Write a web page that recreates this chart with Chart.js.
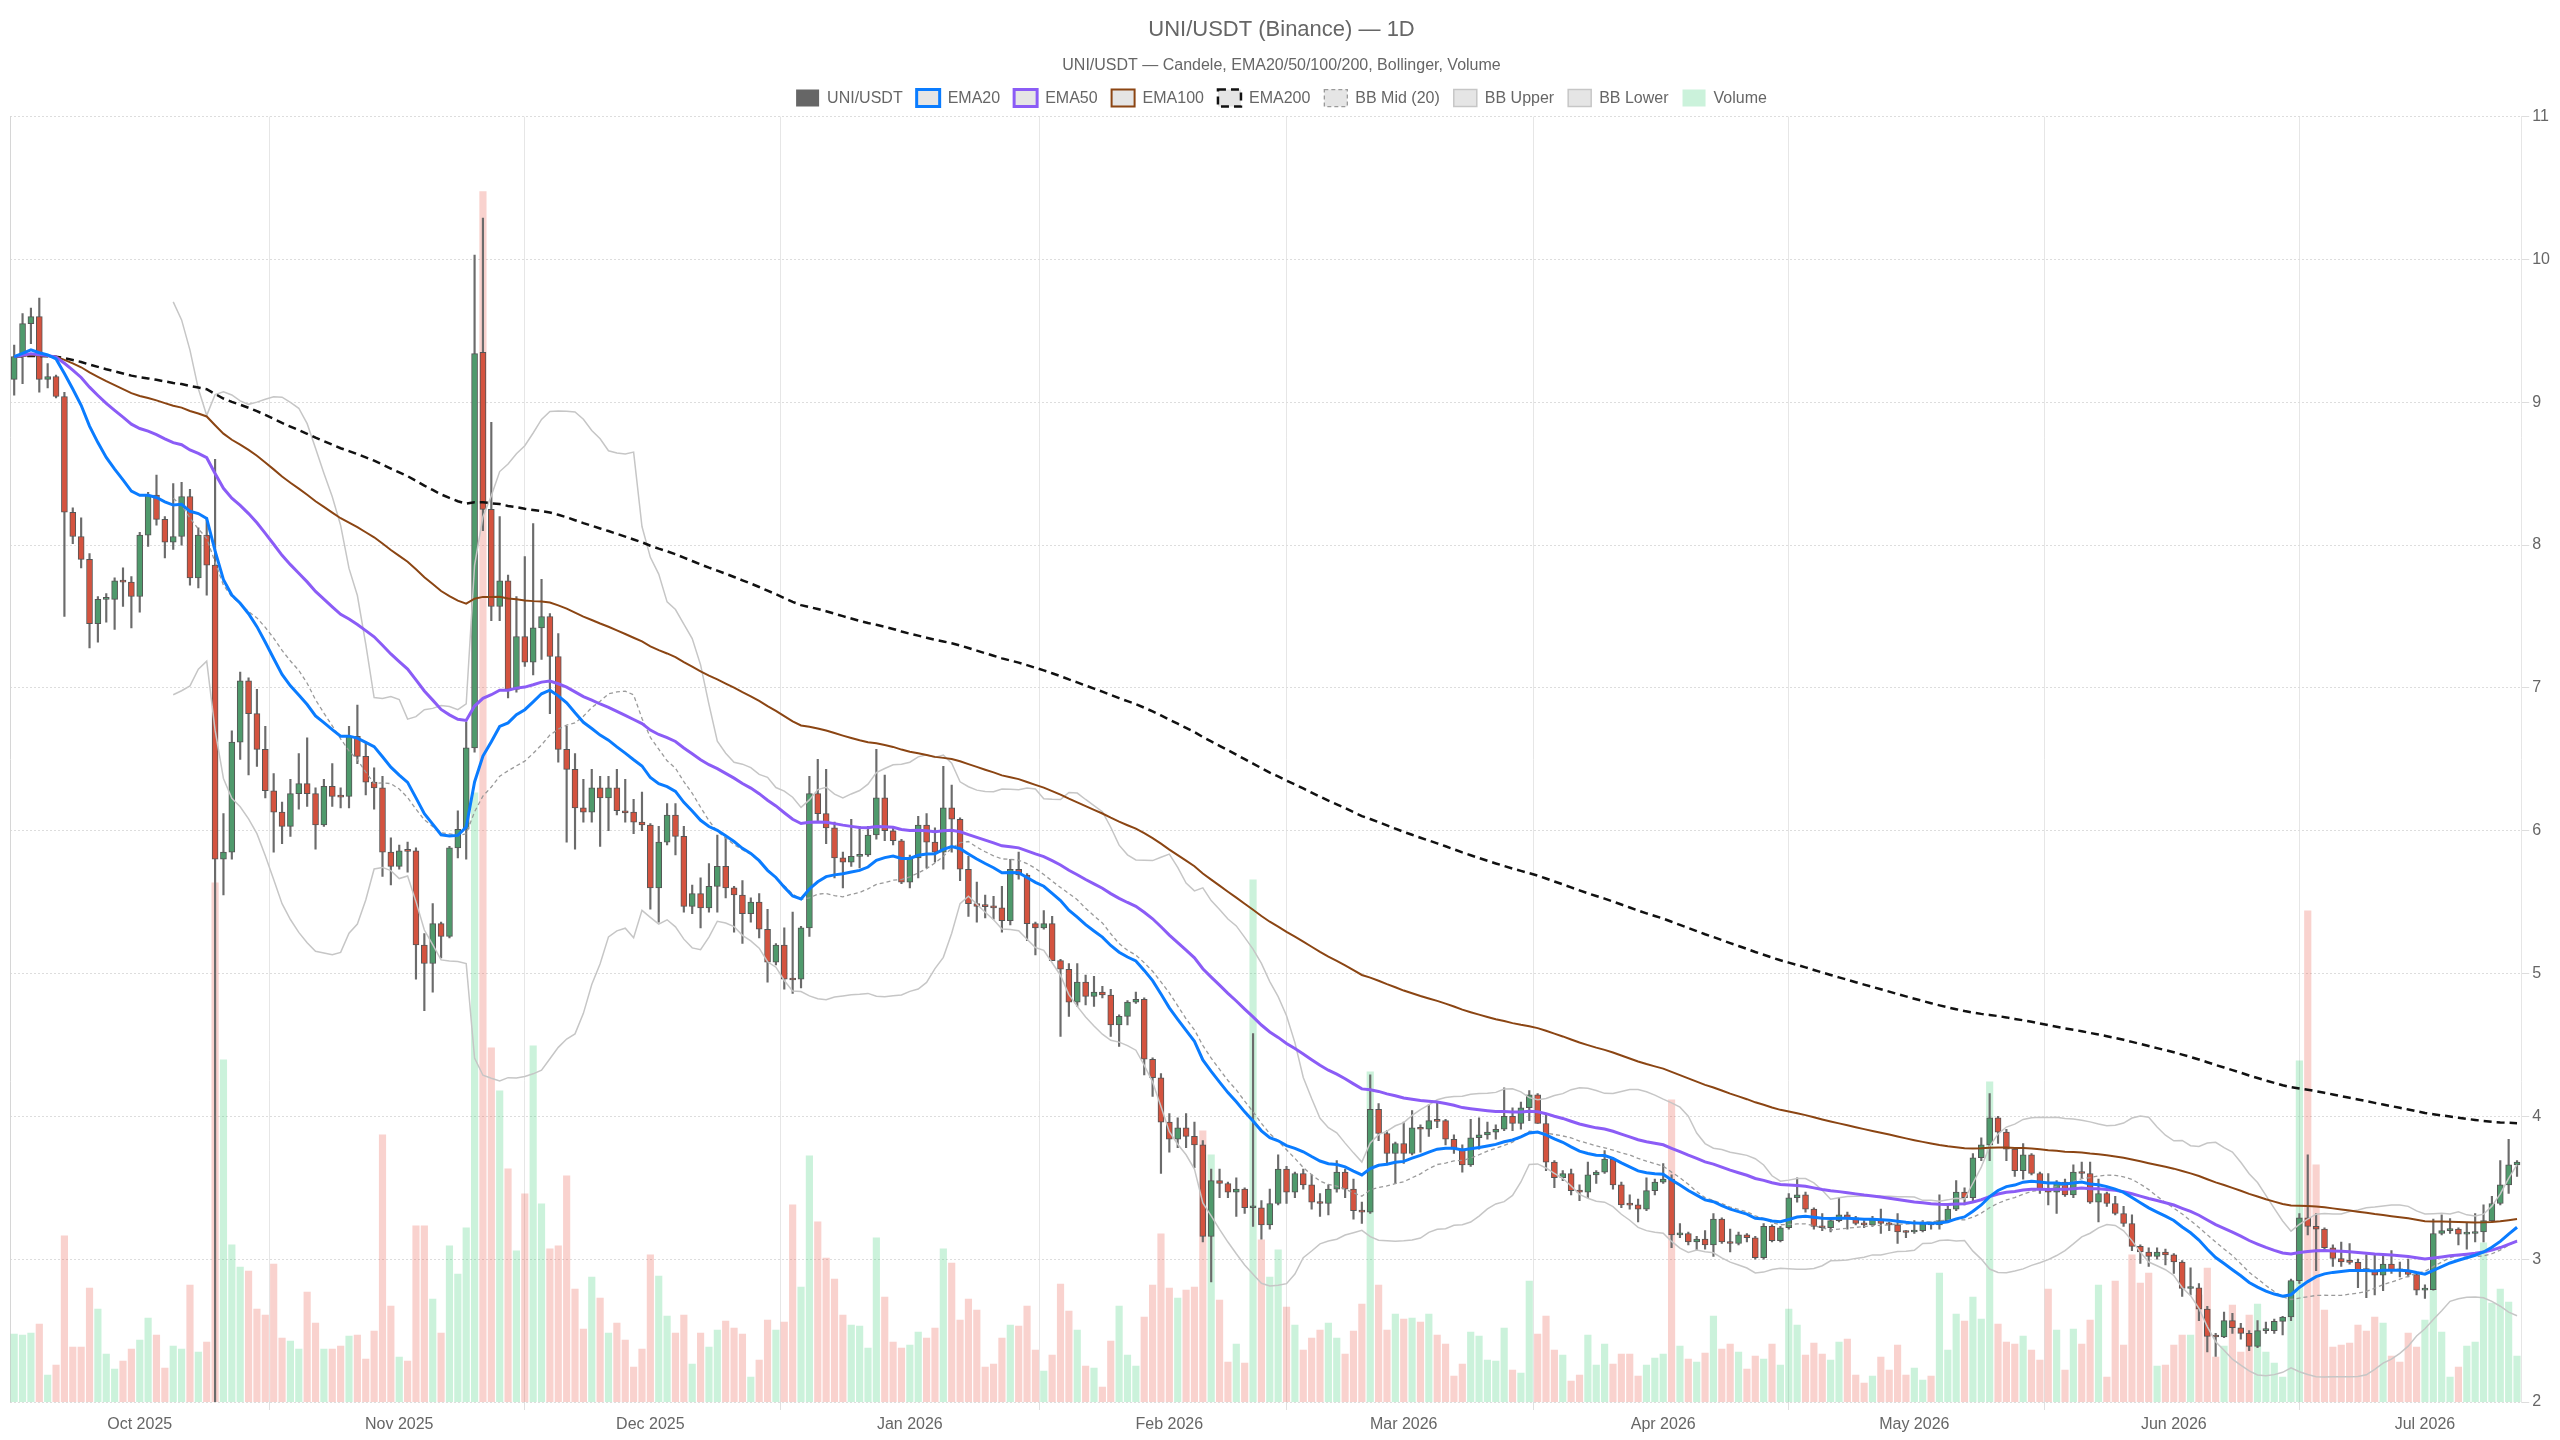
<!DOCTYPE html>
<html>
<head>
<meta charset="utf-8">
<title>UNI/USDT (Binance) — 1D</title>
<script src="https://cdn.jsdelivr.net/npm/chart.js@4.4.1/dist/chart.umd.min.js"></script>
<style>
  html, body { margin: 0; padding: 0; background: #ffffff; }
  #wrap { position: relative; width: 2560px; height: 1440px; }
</style>
</head>
<body>
<div id="wrap"><canvas id="chart"></canvas></div>
<script>
'use strict';

// daily candles, first one is 16 Sep 2025
var START_DATE = [2025, 8, 16];
var MONTH_NAMES = ['Jan', 'Feb', 'Mar', 'Apr', 'May', 'Jun', 'Jul', 'Aug', 'Sep', 'Oct', 'Nov', 'Dec'];

var opens = [
  9.16, 9.32, 9.55, 9.60, 9.16, 9.18, 9.04, 8.23, 8.06, 7.90,
  7.45, 7.62, 7.62, 7.75, 7.74, 7.64, 8.07, 8.35, 8.18, 8.02,
  8.06, 8.34, 7.77, 8.07, 7.86, 5.80, 5.85, 6.62, 7.05, 6.82,
  6.57, 6.28, 6.13, 6.03, 6.26, 6.33, 6.26, 6.04, 6.31, 6.24,
  6.24, 6.66, 6.52, 6.34, 6.30, 5.85, 5.75, 5.86, 5.86, 5.20,
  5.07, 5.35, 5.26, 5.88, 6.01, 6.58, 9.35, 8.25, 7.57, 7.75,
  6.99, 7.36, 7.18, 7.42, 7.50, 7.22, 6.57, 6.43, 6.16, 6.13,
  6.30, 6.23, 6.30, 6.14, 6.13, 6.06, 6.04, 5.60, 5.92, 6.11,
  5.96, 5.47, 5.56, 5.46, 5.61, 5.75, 5.60, 5.55, 5.42, 5.50,
  5.31, 5.08, 5.20, 4.96, 4.96, 5.32, 6.26, 6.12, 6.02, 5.81,
  5.78, 5.82, 5.83, 5.97, 6.23, 6.00, 5.93, 5.64, 5.81, 6.04,
  5.92, 5.85, 6.16, 6.08, 5.73, 5.49, 5.47, 5.47, 5.46, 5.37,
  5.73, 5.69, 5.35, 5.32, 5.35, 5.09, 5.03, 4.80, 4.94, 4.84,
  4.87, 4.85, 4.64, 4.70, 4.80, 4.82, 4.40, 4.27, 3.96, 3.84,
  3.92, 3.86, 3.80, 3.16, 3.55, 3.53, 3.47, 3.49, 3.36, 3.36,
  3.24, 3.39, 3.63, 3.47, 3.60, 3.52, 3.40, 3.39, 3.49, 3.61,
  3.49, 3.34, 3.33, 4.05, 3.88, 3.74, 3.81, 3.74, 3.92, 3.91,
  3.97, 3.97, 3.84, 3.77, 3.66, 3.85, 3.87, 3.89, 3.91, 4.00,
  3.95, 4.06, 4.15, 3.95, 3.68, 3.57, 3.60, 3.48, 3.47, 3.59,
  3.61, 3.70, 3.52, 3.38, 3.38, 3.35, 3.48, 3.54, 3.56, 3.17,
  3.18, 3.12, 3.14, 3.10, 3.28, 3.12, 3.11, 3.17, 3.15, 3.01,
  3.23, 3.13, 3.22, 3.43, 3.45, 3.35, 3.23, 3.22, 3.27, 3.31,
  3.29, 3.25, 3.24, 3.28, 3.25, 3.24, 3.19, 3.19, 3.20, 3.25,
  3.24, 3.27, 3.35, 3.47, 3.43, 3.71, 3.80, 3.99, 3.89, 3.77,
  3.62, 3.73, 3.60, 3.49, 3.47, 3.54, 3.45, 3.61, 3.60, 3.40,
  3.46, 3.39, 3.32, 3.25, 3.09, 3.05, 3.02, 3.05, 3.03, 2.98,
  2.795, 2.80, 2.65, 2.46, 2.455, 2.57, 2.52, 2.48, 2.39, 2.50,
  2.50, 2.565, 2.595, 2.85, 3.29, 3.23, 3.21, 3.08, 3.005, 2.98,
  2.978, 2.923, 2.92, 2.888, 2.966, 2.923, 2.918, 2.893, 2.783, 2.787,
  3.18, 3.20, 3.21, 3.175, 3.18, 3.19, 3.27, 3.39, 3.52, 3.66
];

var highs = [
  9.40, 9.62, 9.66, 9.73, 9.27, 9.19, 9.07, 8.26, 8.19, 7.94,
  7.64, 7.66, 7.77, 7.84, 7.78, 8.09, 8.37, 8.49, 8.20, 8.43,
  8.44, 8.39, 8.12, 8.19, 8.60, 6.12, 6.70, 7.11, 7.07, 6.99,
  6.73, 6.40, 6.20, 6.36, 6.54, 6.65, 6.30, 6.36, 6.47, 6.30,
  6.73, 6.88, 6.62, 6.44, 6.38, 5.95, 5.90, 5.92, 5.88, 5.28,
  5.49, 5.36, 5.89, 6.14, 6.76, 10.03, 10.29, 8.86, 8.20, 7.79,
  7.64, 7.92, 8.15, 7.76, 7.52, 7.38, 6.73, 6.54, 6.36, 6.43,
  6.38, 6.38, 6.43, 6.36, 6.22, 6.27, 6.05, 6.03, 6.19, 6.19,
  6.03, 5.62, 5.67, 5.77, 5.97, 5.95, 5.61, 5.65, 5.53, 5.56,
  5.45, 5.21, 5.32, 5.43, 5.33, 6.38, 6.50, 6.43, 6.06, 5.85,
  6.08, 6.03, 6.03, 6.57, 6.39, 6.02, 5.94, 5.83, 6.10, 6.12,
  6.02, 6.45, 6.32, 6.09, 5.82, 5.64, 5.55, 5.54, 5.61, 5.80,
  5.85, 5.70, 5.36, 5.44, 5.40, 5.10, 5.07, 5.07, 4.99, 4.98,
  4.91, 4.89, 4.71, 4.81, 4.87, 4.83, 4.41, 4.30, 4.02, 3.99,
  4.02, 3.96, 3.83, 3.63, 3.63, 3.54, 3.57, 3.50, 4.58, 3.41,
  3.49, 3.73, 3.65, 3.61, 3.63, 3.59, 3.46, 3.52, 3.69, 3.63,
  3.56, 3.40, 4.29, 4.09, 3.90, 3.82, 3.96, 4.04, 3.94, 4.08,
  4.10, 3.98, 3.87, 3.80, 3.98, 3.99, 3.96, 3.94, 4.20, 4.06,
  4.10, 4.18, 4.16, 4.02, 3.69, 3.62, 3.63, 3.52, 3.68, 3.62,
  3.76, 3.71, 3.54, 3.45, 3.42, 3.57, 3.56, 3.67, 3.59, 3.25,
  3.19, 3.16, 3.20, 3.32, 3.29, 3.21, 3.19, 3.18, 3.16, 3.25,
  3.24, 3.23, 3.46, 3.57, 3.47, 3.36, 3.32, 3.28, 3.43, 3.33,
  3.30, 3.27, 3.30, 3.35, 3.26, 3.32, 3.20, 3.27, 3.27, 3.26,
  3.45, 3.39, 3.55, 3.50, 3.74, 3.85, 4.16, 4.00, 3.91, 3.78,
  3.81, 3.74, 3.61, 3.60, 3.55, 3.56, 3.66, 3.68, 3.68, 3.56,
  3.47, 3.44, 3.37, 3.31, 3.10, 3.08, 3.08, 3.07, 3.04, 2.99,
  2.94, 2.83, 2.67, 2.48, 2.63, 2.62, 2.55, 2.50, 2.57, 2.56,
  2.58, 2.60, 2.86, 3.32, 3.73, 3.32, 3.22, 3.10, 3.12, 3.11,
  3.00, 3.03, 3.03, 3.035, 3.06, 2.98, 3.00, 2.90, 2.82, 3.28,
  3.31, 3.285, 3.22, 3.255, 3.32, 3.38, 3.44, 3.69, 3.84, 3.69
];

var lows = [
  9.05, 9.13, 9.41, 9.07, 9.10, 9.03, 7.50, 8.01, 7.84, 7.28,
  7.32, 7.46, 7.41, 7.57, 7.42, 7.53, 7.99, 8.14, 7.91, 7.97,
  8.00, 7.72, 7.70, 7.65, 2.00, 5.55, 5.80, 6.50, 6.39, 6.45,
  6.23, 5.85, 5.91, 5.96, 6.15, 6.17, 5.87, 6.03, 6.17, 6.16,
  6.16, 6.47, 6.25, 6.15, 5.68, 5.62, 5.73, 5.71, 4.96, 4.74,
  4.87, 5.11, 5.25, 5.81, 5.80, 6.55, 8.10, 7.47, 7.47, 6.93,
  6.97, 7.15, 7.09, 7.20, 6.82, 6.48, 5.92, 5.87, 6.06, 6.06,
  5.89, 6.00, 6.11, 6.06, 5.98, 6.00, 5.45, 5.36, 5.90, 5.83,
  5.43, 5.42, 5.32, 5.43, 5.43, 5.53, 5.29, 5.21, 5.36, 5.25,
  4.94, 5.06, 4.89, 4.86, 4.90, 5.26, 6.06, 5.91, 5.67, 5.60,
  5.75, 5.74, 5.82, 5.94, 5.93, 5.90, 5.63, 5.60, 5.67, 5.74,
  5.78, 5.73, 5.85, 5.65, 5.40, 5.36, 5.39, 5.38, 5.29, 5.34,
  5.66, 5.23, 5.13, 5.31, 5.09, 4.56, 4.70, 4.77, 4.78, 4.77,
  4.83, 4.56, 4.49, 4.64, 4.79, 4.29, 4.14, 3.60, 3.75, 3.78,
  3.78, 3.64, 3.12, 2.84, 3.43, 3.43, 3.30, 3.32, 3.23, 3.14,
  3.21, 3.38, 3.39, 3.43, 3.49, 3.35, 3.30, 3.31, 3.47, 3.43,
  3.28, 3.25, 3.32, 3.83, 3.66, 3.53, 3.67, 3.73, 3.75, 3.86,
  3.92, 3.80, 3.74, 3.61, 3.65, 3.77, 3.84, 3.84, 3.90, 3.90,
  3.91, 3.97, 3.95, 3.62, 3.50, 3.55, 3.45, 3.41, 3.43, 3.53,
  3.60, 3.49, 3.36, 3.35, 3.26, 3.34, 3.45, 3.53, 3.08, 3.15,
  3.10, 3.06, 3.07, 3.02, 3.11, 3.05, 3.10, 3.12, 3.00, 3.00,
  3.12, 3.12, 3.21, 3.40, 3.33, 3.21, 3.20, 3.19, 3.26, 3.21,
  3.24, 3.22, 3.23, 3.18, 3.20, 3.11, 3.15, 3.18, 3.19, 3.21,
  3.21, 3.26, 3.34, 3.38, 3.40, 3.69, 3.69, 3.81, 3.69, 3.58,
  3.56, 3.59, 3.46, 3.38, 3.32, 3.44, 3.43, 3.57, 3.39, 3.26,
  3.37, 3.31, 3.23, 3.06, 2.97, 2.95, 3.00, 2.96, 2.90, 2.74,
  2.75, 2.57, 2.35, 2.32, 2.45, 2.48, 2.44, 2.36, 2.38, 2.48,
  2.48, 2.47, 2.57, 2.83, 3.17, 2.92, 3.06, 2.95, 2.95, 2.965,
  2.80, 2.73, 2.75, 2.78, 2.90, 2.876, 2.876, 2.75, 2.725, 2.783,
  3.17, 3.18, 3.10, 3.07, 3.12, 3.12, 3.26, 3.38, 3.46, 3.58
];

var closes = [
  9.32, 9.55, 9.60, 9.16, 9.18, 9.04, 8.23, 8.06, 7.90, 7.45,
  7.62, 7.625, 7.75, 7.74, 7.64, 8.07, 8.35, 8.18, 8.02, 8.06,
  8.34, 7.77, 8.07, 7.86, 5.80, 5.85, 6.62, 7.05, 6.82, 6.57,
  6.28, 6.13, 6.03, 6.26, 6.33, 6.26, 6.04, 6.31, 6.24, 6.235,
  6.66, 6.52, 6.34, 6.30, 5.85, 5.75, 5.86, 5.855, 5.20, 5.07,
  5.35, 5.26, 5.88, 6.01, 6.58, 9.34, 8.25, 7.57, 7.75, 6.99,
  7.36, 7.18, 7.42, 7.50, 7.22, 6.57, 6.43, 6.16, 6.13, 6.30,
  6.23, 6.30, 6.14, 6.125, 6.06, 6.04, 5.60, 5.92, 6.11, 5.96,
  5.47, 5.56, 5.46, 5.61, 5.75, 5.60, 5.55, 5.42, 5.50, 5.31,
  5.08, 5.20, 4.96, 4.955, 5.32, 6.26, 6.12, 6.02, 5.81, 5.78,
  5.82, 5.83, 5.97, 6.23, 6.00, 5.93, 5.64, 5.81, 6.04, 5.92,
  5.85, 6.16, 6.08, 5.73, 5.49, 5.47, 5.468, 5.46, 5.37, 5.73,
  5.69, 5.35, 5.32, 5.35, 5.09, 5.03, 4.80, 4.94, 4.84, 4.87,
  4.85, 4.64, 4.70, 4.80, 4.82, 4.40, 4.27, 3.96, 3.84, 3.92,
  3.86, 3.80, 3.16, 3.55, 3.53, 3.47, 3.49, 3.36, 3.365, 3.24,
  3.39, 3.63, 3.47, 3.60, 3.52, 3.40, 3.39, 3.49, 3.61, 3.49,
  3.34, 3.33, 4.05, 3.88, 3.74, 3.81, 3.74, 3.92, 3.91, 3.97,
  3.965, 3.84, 3.77, 3.66, 3.85, 3.87, 3.89, 3.91, 4.00, 3.95,
  4.06, 4.15, 3.95, 3.68, 3.57, 3.60, 3.48, 3.47, 3.59, 3.61,
  3.70, 3.52, 3.38, 3.378, 3.35, 3.48, 3.54, 3.56, 3.17, 3.18,
  3.12, 3.14, 3.10, 3.28, 3.12, 3.11, 3.17, 3.15, 3.01, 3.23,
  3.13, 3.22, 3.43, 3.45, 3.35, 3.23, 3.22, 3.27, 3.31, 3.29,
  3.25, 3.24, 3.28, 3.25, 3.24, 3.19, 3.187, 3.20, 3.25, 3.24,
  3.27, 3.35, 3.47, 3.43, 3.71, 3.80, 3.99, 3.89, 3.77, 3.62,
  3.73, 3.60, 3.49, 3.47, 3.54, 3.45, 3.61, 3.60, 3.40, 3.46,
  3.39, 3.32, 3.25, 3.09, 3.05, 3.02, 3.05, 3.03, 2.98, 2.795,
  2.80, 2.65, 2.46, 2.455, 2.57, 2.52, 2.48, 2.39, 2.50, 2.502,
  2.565, 2.595, 2.85, 3.29, 3.23, 3.21, 3.08, 3.005, 2.98, 2.978,
  2.923, 2.92, 2.888, 2.966, 2.923, 2.918, 2.893, 2.783, 2.787, 3.18,
  3.20, 3.21, 3.175, 3.18, 3.19, 3.27, 3.39, 3.52, 3.66, 3.68
];

// traded volume (thousand UNI)
var volumes = [
  68, 67, 69, 78, 27, 37, 166, 55, 55, 114,
  93, 48, 33, 41, 53, 62, 84, 67, 34, 56,
  53, 117, 50, 60, 519, 342, 157, 135, 131, 93,
  87, 138, 64, 61, 53, 110, 79, 53, 53, 56,
  66, 67, 43, 71, 267, 96, 45, 41, 176, 176,
  103, 69, 156, 128, 174, 609, 1210, 354, 311, 233,
  151, 208, 356, 198, 153, 156, 226, 113, 73, 125,
  104, 69, 79, 62, 35, 53, 147, 126, 86, 69,
  87, 38, 69, 55, 72, 81, 74, 68, 25, 42,
  82, 72, 80, 197, 115, 246, 180, 144, 123, 87,
  77, 76, 54, 164, 105, 60, 54, 57, 70, 64,
  74, 153, 139, 82, 103, 92, 35, 38, 64, 77,
  76, 96, 52, 31, 47, 118, 91, 72, 36, 34,
  15, 61, 96, 47, 36, 85, 117, 168, 114, 104,
  112, 115, 271, 247, 102, 40, 58, 39, 522, 162,
  125, 152, 95, 77, 52, 64, 72, 79, 64, 48,
  71, 98, 330, 117, 72, 88, 83, 84, 80, 88,
  67, 58, 26, 38, 70, 66, 42, 41, 74, 32,
  29, 121, 68, 86, 52, 47, 21, 27, 67, 37,
  58, 38, 48, 48, 26, 37, 44, 48, 302, 56,
  43, 40, 49, 86, 53, 58, 50, 33, 46, 43,
  58, 37, 93, 77, 47, 59, 48, 42, 60, 63,
  27, 19, 26, 45, 32, 57, 27, 34, 22, 26,
  129, 52, 88, 81, 105, 83, 320, 78, 60, 58,
  66, 52, 42, 113, 72, 32, 73, 58, 82, 117,
  25, 121, 57, 147, 119, 129, 36, 37, 57, 67,
  67, 107, 134, 45, 56, 97, 50, 87, 98, 50,
  39, 25, 120, 341, 491, 237, 92, 55, 57, 59,
  77, 71, 85, 79, 46, 40, 69, 55, 82, 112,
  70, 25, 35, 56, 60, 159, 99, 113, 100, 46
];

var UP = '#4f9a6c';
var DOWN = '#d4533f';
var UP_VOL = 'rgba(46,204,113,0.25)';
var DOWN_VOL = 'rgba(231,76,60,0.25)';

function buildDates(start, n) {
  var base = Date.UTC(start[0], start[1], start[2]);
  var out = [];
  for (var i = 0; i < n; i++) {
    var d = new Date(base + i * 86400000);
    out.push({ y: d.getUTCFullYear(), m: d.getUTCMonth(), d: d.getUTCDate() });
  }
  return out;
}

function ema(values, period) {
  var k = 2 / (period + 1);
  var out = [];
  var prev = values[0];
  for (var i = 0; i < values.length; i++) {
    prev = i === 0 ? values[0] : values[i] * k + prev * (1 - k);
    out.push(prev);
  }
  return out;
}

function bollinger(values, period, mult) {
  var mid = [], upper = [], lower = [];
  for (var i = 0; i < values.length; i++) {
    if (i < period - 1) {
      mid.push(null); upper.push(null); lower.push(null);
      continue;
    }
    var sum = 0, sq = 0;
    for (var j = i - period + 1; j <= i; j++) sum += values[j];
    var mean = sum / period;
    for (j = i - period + 1; j <= i; j++) sq += (values[j] - mean) * (values[j] - mean);
    var sd = Math.sqrt(sq / period);
    mid.push(mean);
    upper.push(mean + mult * sd);
    lower.push(mean - mult * sd);
  }
  return { mid: mid, upper: upper, lower: lower };
}

function points(series) {
  return series.map(function(v, i) { return { x: i, y: v }; });
}

var dates = buildDates(START_DATE, closes.length);
var monthStarts = [];
dates.forEach(function(d, i) { if (d.d === 1) monthStarts.push(i); });
// vertical grid sits halfway between two month starts
var monthMids = [];
for (var m = 0; m < monthStarts.length - 1; m++) {
  monthMids.push((monthStarts[m] + monthStarts[m + 1]) / 2);
}

var isUp = closes.map(function(c, i) { return c >= opens[i]; });
var ema20 = ema(closes, 20);
var ema50 = ema(closes, 50);
var ema100 = ema(closes, 100);
var ema200 = ema(closes, 200);
var bb = bollinger(closes, 20, 2);

var wickData = lows.map(function(l, i) { return { x: i, y: [l, highs[i]] }; });
var bodyData = opens.map(function(o, i) { return { x: i, y: [o, closes[i]] }; });
var volData = volumes.map(function(v, i) { return { x: i, y: v }; });

function lineSet(label, data, color, width, dash, order) {
  return {
    type: 'line', label: label, data: points(data),
    borderColor: color, borderWidth: width, borderDash: dash || [],
    pointRadius: 0, tension: 0, fill: false, spanGaps: false,
    xAxisID: 'x', yAxisID: 'y', order: order
  };
}

var N = closes.length;

new Chart(document.getElementById('chart'), {
  type: 'bar',
  data: {
    datasets: [
      {
        label: 'wick', data: wickData, xAxisID: 'x', yAxisID: 'y',
        backgroundColor: '#6b6b6b', barThickness: 1.5, grouped: false, order: 8
      },
      {
        label: 'UNI/USDT', data: bodyData, xAxisID: 'x', yAxisID: 'y',
        backgroundColor: isUp.map(function(u) { return u ? UP : DOWN; }),
        borderColor: '#555555', borderWidth: 1, borderSkipped: false,
        barThickness: 6, minBarLength: 2, grouped: false, order: 7
      },
      lineSet('EMA20', ema20, '#0a7cff', 3, null, 1),
      lineSet('EMA50', ema50, '#8b5cf6', 3, null, 2),
      lineSet('EMA100', ema100, '#8b4513', 2, null, 3),
      lineSet('EMA200', ema200, '#111111', 2.5, [8, 5], 4),
      lineSet('BB Mid (20)', bb.mid, '#9a9a9a', 1.3, [4, 3], 5),
      lineSet('BB Upper', bb.upper, '#c6c6c6', 1.5, null, 5),
      lineSet('BB Lower', bb.lower, '#c6c6c6', 1.5, null, 5),
      {
        label: 'Volume', data: volData, xAxisID: 'x', yAxisID: 'yVol',
        backgroundColor: isUp.map(function(u) { return u ? UP_VOL : DOWN_VOL; }),
        barThickness: 6.5, grouped: false, order: 10
      }
    ]
  },
  options: {
    responsive: true,
    maintainAspectRatio: false,
    devicePixelRatio: 1,
    animation: false,
    events: [],
    layout: { padding: { left: 10, right: 7, top: 0, bottom: 0 } },
    plugins: {
      title: {
        display: true,
        text: 'UNI/USDT (Binance) — 1D',
        color: '#666666',
        font: { size: 22, weight: 'normal' },
        padding: { top: 17, bottom: 13 }
      },
      subtitle: {
        display: true,
        text: 'UNI/USDT — Candele, EMA20/50/100/200, Bollinger, Volume',
        color: '#666666',
        font: { size: 16, weight: 'normal' },
        padding: { top: 0, bottom: 0 }
      },
      legend: {
        display: true,
        labels: {
          color: '#666666',
          font: { size: 16 },
          boxWidth: 23,
          boxHeight: 17,
          padding: 14,
          generateLabels: function(chart) {
            var items = Chart.defaults.plugins.legend.labels.generateLabels(chart);
            items.sort(function(a, b) { return a.datasetIndex - b.datasetIndex; });
            return items.filter(function(it) { return it.text !== 'wick'; }).map(function(it) {
              if (it.text === 'UNI/USDT') {
                it.fillStyle = '#666666'; it.strokeStyle = '#666666'; it.lineWidth = 0;
              } else if (it.text === 'Volume') {
                it.fillStyle = UP_VOL; it.strokeStyle = UP_VOL; it.lineWidth = 0;
              }
              return it;
            });
          }
        }
      },
      tooltip: { enabled: false }
    },
    scales: {
      x: {
        type: 'linear', position: 'bottom', weight: 1,
        min: -0.5, max: N - 0.5, offset: false,
        grid: { display: false, drawTicks: false },
        border: { display: false },
        afterBuildTicks: function(axis) {
          axis.ticks = monthStarts.map(function(v) { return { value: v }; });
        },
        ticks: {
          autoSkip: false, maxRotation: 0, padding: 7,
          color: '#666666', font: { size: 16, lineHeight: 1 },
          callback: function(value) {
            var d = dates[value];
            return d ? MONTH_NAMES[d.m] + ' ' + d.y : '';
          }
        }
      },
      xg: {
        type: 'linear', position: 'bottom', weight: 0,
        min: -0.5, max: N - 0.5, offset: false,
        afterBuildTicks: function(axis) {
          axis.ticks = monthMids.map(function(v) { return { value: v }; });
        },
        ticks: { display: false },
        grid: { color: '#e6e6e6', tickColor: '#e0e0e0', drawTicks: true, tickLength: 8, offset: false },
        border: { display: false }
      },
      y: {
        type: 'linear', position: 'right',
        min: 2, max: 11,
        ticks: { stepSize: 1, color: '#666666', font: { size: 16 }, padding: 3 },
        grid: { color: '#dddddd', tickColor: '#dddddd', tickLength: 8 },
        border: { display: true, color: '#e6e6e6', dash: [2, 2] }
      },
      yVol: {
        type: 'linear', position: 'left',
        min: 0, max: 1285,
        ticks: { display: false },
        grid: { display: false, drawTicks: false },
        border: { display: true, color: '#d6d6d6' }
      }
    }
  }
});
</script>
</body>
</html>
